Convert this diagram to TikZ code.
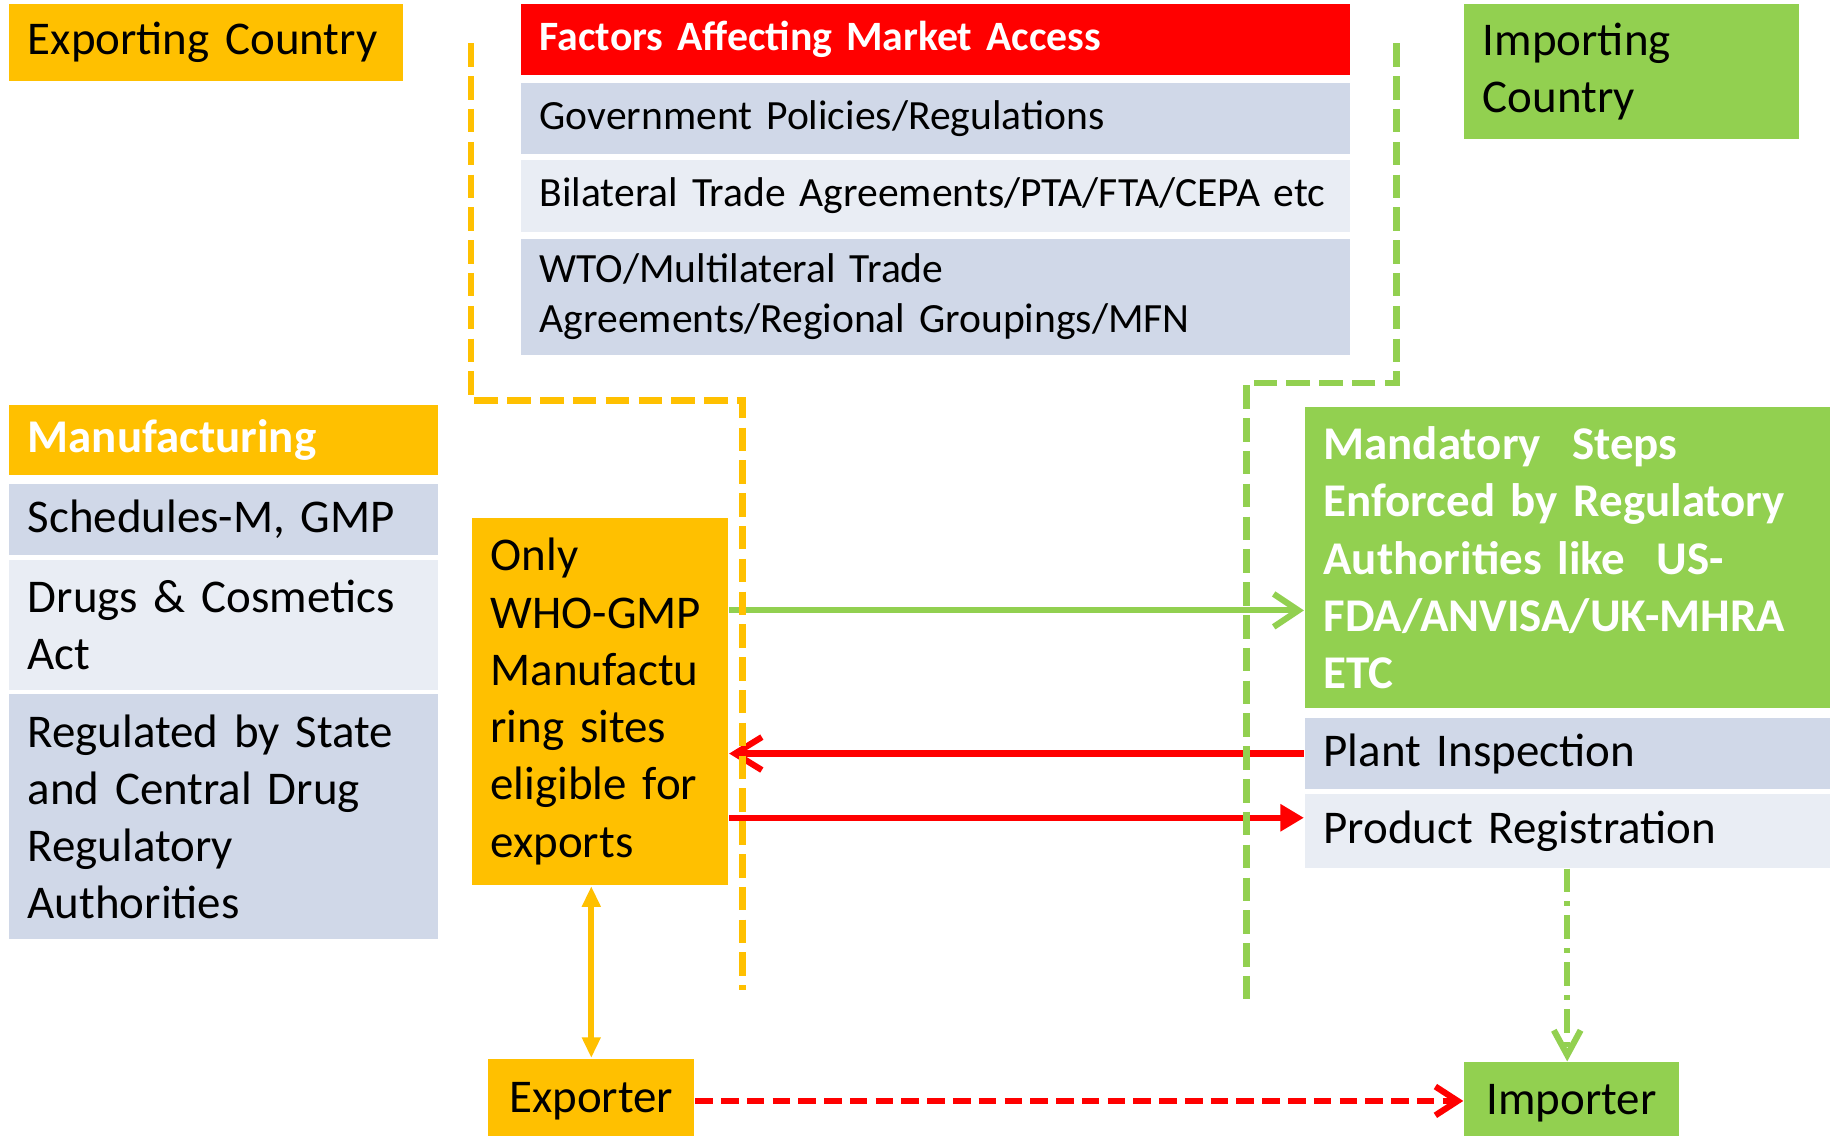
\documentclass[tikz,border=0pt]{standalone}
\usepackage{fontspec}
\setmainfont{Carlito}
\usetikzlibrary{positioning, arrows.meta}
\definecolor{ExportOrange}{RGB}{255,192,0}
\definecolor{ImportGreen}{RGB}{146,208,80}
\definecolor{AccessRed}{RGB}{255,0,0}
\definecolor{RowDark}{RGB}{208,216,232}
\definecolor{RowLight}{RGB}{233,237,244}

\begin{document}
\begin{tikzpicture}[x=1cm, y=-1cm]
        \tikzstyle{cell} = [rectangle, anchor=north west, inner xsep=0.16cm, inner ysep=0pt,
          align=left, font=\fontsize{11.4}{13.9}\selectfont]
        \tikzstyle{factor} = [cell, text width=6.76cm, font=\fontsize{10.1}{12.3}\selectfont]
        \tikzstyle{head} = [font=\fontsize{11.4}{13.9}\selectfont\bfseries, text=white]
        \tikzstyle{flow} = [line width=1.5pt]
        \tikzstyle{border} = [line width=1.6pt, dash pattern=on 0.2cm off 0.08cm]

        \useasboundingbox (0,0) rectangle (15.68,9.69);

        % exporting side
        \node[cell, fill=ExportOrange, text width=3.04cm, minimum height=0.65cm] (expcountry) at (0.07,0.03) {Exporting Country};
        \node[cell, head, fill=ExportOrange, text width=3.34cm, minimum height=0.60cm] (manuf) at (0.07,3.45) {Manufacturing};
        \node[cell, fill=RowDark, text width=3.34cm, minimum height=0.61cm] (sched) at (0.07,4.12) {Schedules-M, GMP};
        \node[cell, fill=RowLight, text width=3.34cm, minimum height=1.11cm] (drugs) at (0.07,4.77) {Drugs \& Cosmetics\\Act};
        \node[cell, fill=RowDark, text width=3.34cm, minimum height=2.09cm] (regul) at (0.07,5.92) {Regulated by State\\and Central Drug\\Regulatory\\Authorities};
        \node[cell, fill=ExportOrange, text width=1.87cm, minimum height=3.14cm] (only) at (4.02,4.41) {Only\\WHO-GMP\\Manufactu\\ring sites\\eligible for\\exports};
        \node[cell, fill=ExportOrange, text width=1.44cm, align=center, minimum height=0.72cm] (exporter) at (4.16,9.03) {Exporter};

        % factors in the middle
        \node[factor, head, fill=AccessRed, minimum height=0.60cm, font=\fontsize{10.15}{12.3}\selectfont\bfseries] (facthead) at (4.44,0.03) {Factors Affecting Market Access};
        \node[factor, fill=RowDark, minimum height=0.61cm] (govt) at (4.44,0.70) {Government Policies/Regulations};
        \node[factor, fill=RowLight, minimum height=0.61cm] (bilat) at (4.44,1.36) {\mbox{Bilateral Trade Agreements/PTA/FTA/CEPA etc}};
        \node[factor, fill=RowDark, minimum height=0.99cm] (wto) at (4.44,2.03) {WTO/Multilateral Trade\\Agreements/Regional Groupings/MFN};

        % importing side
        \node[cell, fill=ImportGreen, text width=2.54cm, minimum height=1.15cm] (impcountry) at (12.49,0.03) {Importing\\Country};
        \node[cell, head, fill=ImportGreen, text width=4.16cm, minimum height=2.57cm] (mand) at (11.13,3.47) {Mandatory~~Steps\\Enforced by Regulatory\\Authorities like~~US-\\FDA/ANVISA/UK-MHRA\\ETC};
        \node[cell, fill=RowDark, text width=4.16cm, minimum height=0.61cm] (plant) at (11.13,6.12) {Plant Inspection};
        \node[cell, fill=RowLight, text width=4.16cm, minimum height=0.63cm] (prodreg) at (11.13,6.77) {Product Registration};
        \node[cell, fill=ImportGreen, text width=1.51cm, align=center, minimum height=0.70cm] (importer) at (12.49,9.06) {Importer};

        % arrows
        \draw[flow, ImportGreen, -{Straight Barb[length=6pt, width=8pt]}] (only.east |- 0,5.21) -- (mand.west |- 0,5.21);
        \draw[flow, AccessRed, -{Straight Barb[length=6.5pt, width=8pt]}] (plant.west) -- (plant.west -| only.east);
        \draw[flow, AccessRed, -{Triangle[length=5.7pt, width=6.3pt]}] (only.east |- 0,6.98) -- (prodreg.west |- 0,6.98);
        \draw[flow, ExportOrange, {Triangle[length=5pt, width=4.3pt]}-{Triangle[length=5pt, width=4.3pt]}] (exporter.north |- only.south) -- (exporter.north);
        \draw[flow, AccessRed, dash pattern=on 0.15cm off 0.07cm, -{Straight Barb[length=5.4pt, width=7pt]}] (exporter.east) -- (exporter.east -| importer.west);
        \draw[flow, ImportGreen, dash pattern=on 0.2cm off 0.08cm on 0.04cm off 0.08cm, -{Straight Barb[length=6pt, width=6.5pt]}] (prodreg.south) -- (prodreg.south |- importer.north);

        % country borders
        \coordinate (obtop) at (4.02,0.37);
        \coordinate (obend) at (6.34,8.45);
        \coordinate (gbtop) at (11.92,0.37);
        \coordinate (gbend) at (10.64,8.57);
        \draw[border, ExportOrange] (obtop) |- (obend |- 0,3.42) -- (obend);
        \draw[border, ImportGreen] (gbtop) |- (gbend |- 0,3.27) -- (gbend);
\end{tikzpicture}
\end{document}
